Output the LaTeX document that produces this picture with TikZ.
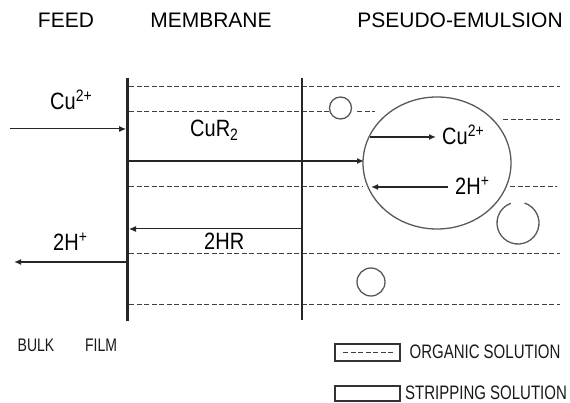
\documentclass[tikz,border=0pt]{standalone}
\usepackage{fontspec}
\setmainfont{Liberation Sans}
\usetikzlibrary{arrows.meta}
\begin{document}
\begin{tikzpicture}[x=1pt,y=-1pt,
  wall/.style={line width=2.4pt,draw=black!85},
  wallb/.style={line width=1.9pt,draw=black!85},
  org/.style={line width=1pt,draw=black!75,dash pattern=on 5pt off 2.5pt},
  flow/.style={line width=1.5pt,draw=black!85,-{Latex[length=7pt,width=6pt]}},
  thinflow/.style={line width=1pt,draw=black!85,-{Latex[length=7pt,width=6pt]}},
  dropc/.style={line width=1.3pt,draw=black!65},
  head/.style={font=\fontsize{21}{24}\selectfont,text=black,inner sep=0pt},
  lab/.style={font=\fontsize{20}{22}\selectfont,text=black,inner sep=0pt,anchor=base west},
  smalltxt/.style={font=\fontsize{14}{16}\selectfont,text=black!90,inner sep=0pt},
  legtxt/.style={font=\fontsize{15}{17}\selectfont,text=black!90,inner sep=0pt},
  legbox/.style={line width=1.5pt,draw=black!80},
]
\newcommand{\tallt}[1]{\scalebox{1}[1.18]{#1}}
\useasboundingbox (0,0) rectangle (570,403);

% headings
\node[head] (hfeed) at (66,20) {FEED};
\node[head] (hmem) at (211,20) {MEMBRANE};
\node[head] (hpe) at (460,20) {PSEUDO-EMULSION};

% organic (dashed) lines
\coordinate (o1a) at (129,87);  \coordinate (o1b) at (560,87);
\coordinate (o2a) at (129,112); \coordinate (o2b) at (330,112);
\coordinate (o2c) at (357,112); \coordinate (o2d) at (375,112);
\coordinate (o2e) at (503,120); \coordinate (o2f) at (560,120);
\coordinate (o3a) at (129,187); \coordinate (o3b) at (362,187);
\coordinate (o3c) at (510,187); \coordinate (o3d) at (557,187);
\coordinate (o4a) at (129,254); \coordinate (o4b) at (560,254);
\coordinate (o5a) at (129,304); \coordinate (o5b) at (560,304);
\draw[org] (o1a) -- (o1b);
\draw[org] (o2a) -- (o2b);
\draw[org] (o2c) -- (o2d);
\draw[org] (o2e) -- (o2f);
\draw[org] (o3a) -- (o3b);
\draw[org] (o3c) -- (o3d);
\draw[org] (o4a) -- (o4b);
\draw[org] (o5a) -- (o5b);

% membrane walls
\coordinate (lwT) at (127.5,78); \coordinate (lwB) at (127.5,321);
\coordinate (mwT) at (302,78);   \coordinate (mwB) at (302,320);
\draw[wall] (lwT) -- (lwB);
\draw[wallb] (mwT) -- (mwB);

% droplets
\coordinate (bigc) at (437,163);
\draw[dropc] (bigc) ellipse [x radius=74, y radius=66];
\coordinate (sc1) at (340.5,108);
\draw[dropc] (sc1) circle [radius=11];
\coordinate (sc2) at (371,282);
\draw[dropc] (sc2) circle [radius=14];
\coordinate (sc3) at (518,223);
\draw[dropc] (sc3) ++(-72:21) arc[start angle=-72, end angle=250, radius=21];

% flows
\coordinate (fin) at (10,129);   \coordinate (fwall) at (126,129);
\draw[thinflow] (fin) -- (fwall);
\coordinate (cs) at (128,161);   \coordinate (ce) at (364,161);
\draw[flow] (cs) -- (ce);
\coordinate (ics) at (370,137);  \coordinate (ice) at (436,137);
\draw[flow] (ics) -- (ice);
\coordinate (ihs) at (448,187);  \coordinate (ihe) at (371,187);
\draw[flow] (ihs) -- (ihe);
\coordinate (hrs) at (302,229);  \coordinate (hre) at (129,229);
\draw[thinflow] (hrs) -- (hre);
\coordinate (hos) at (127,262);  \coordinate (hoe) at (14,262);
\draw[flow,line width=1.9pt] (hos) -- (hoe);

% species labels
\node[lab] (lcu) at (50,110) {\tallt{Cu\textsuperscript{2+}}};
\node[lab] (lcur) at (190,137) {\tallt{CuR\textsubscript{2}}};
\node[lab] (lhr) at (204,250) {\tallt{2HR}};
\node[lab] (lho) at (53,251) {\tallt{2H\textsuperscript{+}}};
\node[lab] (licu) at (442,145) {\tallt{Cu\textsuperscript{2+}}};
\node[lab] (lih) at (455,195) {\tallt{2H\textsuperscript{+}}};

% bottom labels
\node[smalltxt] (lbulk) at (36,345) {\scalebox{1}[1.3]{BULK}};
\node[smalltxt] (lfilm) at (101,345) {\scalebox{1}[1.3]{FILM}};

% legend
\coordinate (b1a) at (335,344); \coordinate (b1b) at (400,361);
\draw[legbox] (b1a) rectangle (b1b);
\coordinate (d1a) at (343,352.5); \coordinate (d1b) at (393,352.5);
\draw[org] (d1a) -- (d1b);
\coordinate (b2a) at (335,386); \coordinate (b2b) at (400,401);
\draw[legbox] (b2a) rectangle (b2b);
\node[legtxt] (lorg) at (485,352) {\scalebox{1}[1.3]{ORGANIC SOLUTION}};
\node[legtxt] (lstr) at (486,393) {\scalebox{1}[1.3]{STRIPPING SOLUTION}};
\end{tikzpicture}
\end{document}
